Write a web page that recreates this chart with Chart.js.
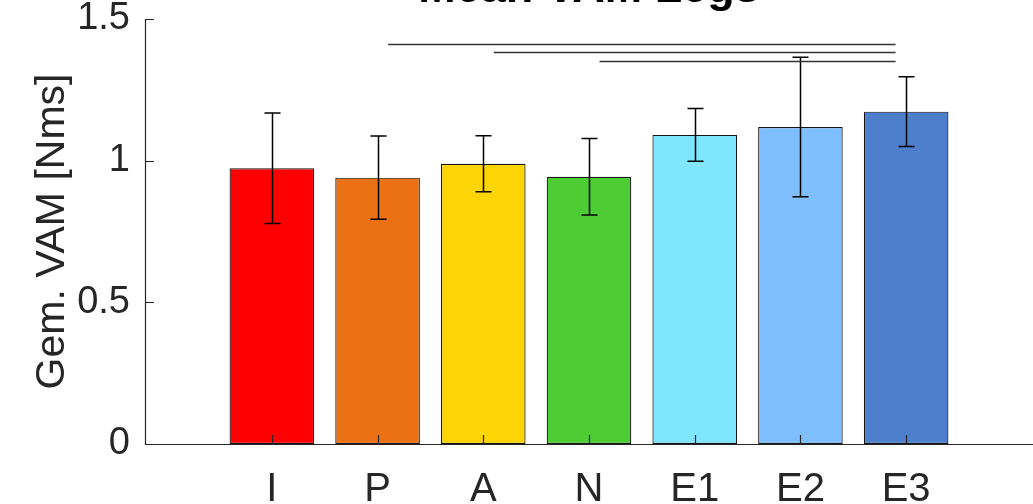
<!DOCTYPE html>
<html>
<head>
<meta charset="utf-8">
<script src="https://cdn.jsdelivr.net/npm/chart.js@4.4.1/dist/chart.umd.min.js"></script>
<style>
  html, body { margin: 0; padding: 0; background: #fff; overflow: hidden; width: 1033px; height: 504px; }
  #wrap { position: absolute; left: 0; top: -40px; width: 1033px; height: 600px; }
</style>
</head>
<body>
<div id="wrap"><canvas id="c"></canvas></div>
<script>
// ---- data ----
const categories = ['I', 'P', 'A', 'N', 'E1', 'E2', 'E3'];
const means = [0.973, 0.940, 0.989, 0.943, 1.091, 1.119, 1.173];
const errors = [0.195, 0.147, 0.099, 0.135, 0.093, 0.246, 0.123];
const barColors = ['#FF0000', '#EC7014', '#FDD504', '#4DCC33', '#80E6FF', '#80BFFF', '#4D7FCC'];
const yTickValues = [0, 0.5, 1, 1.5];
const sigFrom = ['P', 'A', 'N'];
const sigTo = ['E3', 'E3', 'E3'];
const sigLevel = [1.413, 1.383, 1.352];
const chartTitle = 'Mean VAM Legs';
const yTitle = 'Gem. VAM [Nms]';

const FONT = '"Liberation Sans", Arial, Helvetica, sans-serif';
const AX = '#262626';
const catPos = categories.map((_, i) => i + 1);

const customDraw = {
  id: 'customDraw',
  afterDatasetsDraw(chart) {
    const ctx = chart.ctx;
    const xs = chart.scales.x, ys = chart.scales.y;
    const ca = chart.chartArea;
    ctx.save();
    // error bars
    ctx.strokeStyle = '#000';
    ctx.lineWidth = 1.5;
    means.forEach((m, i) => {
      const x = Math.round(xs.getPixelForValue(catPos[i])) + 0.5;
      const yt = ys.getPixelForValue(m + errors[i]);
      const yb = ys.getPixelForValue(m - errors[i]);
      ctx.beginPath();
      ctx.moveTo(x, yt); ctx.lineTo(x, yb);
      ctx.moveTo(x - 8, yt); ctx.lineTo(x + 8, yt);
      ctx.moveTo(x - 8, yb); ctx.lineTo(x + 8, yb);
      ctx.stroke();
    });
    // significance lines
    ctx.strokeStyle = '#333';
    ctx.lineWidth = 1.3;
    sigFrom.forEach((f, i) => {
      const a = catPos[categories.indexOf(f)] + 0.1;
      const b = catPos[categories.indexOf(sigTo[i])] - 0.1;
      const y = Math.round(ys.getPixelForValue(sigLevel[i])) + 0.5;
      ctx.beginPath();
      ctx.moveTo(xs.getPixelForValue(a), y);
      ctx.lineTo(xs.getPixelForValue(b), y);
      ctx.stroke();
    });
    // axes lines + inward ticks
    ctx.strokeStyle = AX;
    ctx.lineWidth = 1.2;
    ctx.beginPath();
    ctx.moveTo(ca.left + 0.5, ca.top);
    ctx.lineTo(ca.left + 0.5, ca.bottom + 0.5);
    ctx.lineTo(ca.right, ca.bottom + 0.5);
    yTickValues.forEach(v => {
      const y = Math.round(ys.getPixelForValue(v)) + 0.5;
      ctx.moveTo(ca.left, y); ctx.lineTo(ca.left + 9, y);
    });
    catPos.forEach(p => {
      const x = Math.round(xs.getPixelForValue(p)) + 0.5;
      ctx.moveTo(x, ca.bottom); ctx.lineTo(x, ca.bottom - 9);
    });
    ctx.stroke();
    // title (clipped at top of page)
    ctx.fillStyle = '#000';
    ctx.font = 'bold 45px ' + FONT;
    ctx.textAlign = 'center';
    ctx.textBaseline = 'alphabetic';
    ctx.fillText(chartTitle, (ca.left + ca.right) / 2, 42);
    ctx.restore();
  }
};

new Chart(document.getElementById('c'), {
  type: 'bar',
  data: {
    datasets: [{
      data: catPos.map((p, i) => ({ x: p, y: means[i] })),
      backgroundColor: barColors,
      borderColor: '#141414',
      borderWidth: 1.2,
      borderSkipped: false,
      barPercentage: 1.0,
      categoryPercentage: 0.8
    }]
  },
  options: {
    responsive: true,
    maintainAspectRatio: false,
    animation: false,
    devicePixelRatio: 1,
    layout: { padding: { top: 59, right: 0, left: 0, bottom: 0 } },
    plugins: { legend: { display: false }, tooltip: { enabled: false }, title: { display: false } },
    scales: {
      x: {
        type: 'linear',
        offset: false,
        min: -0.2,
        max: 8.2,
        grid: { display: false, drawTicks: false, offset: false },
        border: { display: false },
        afterBuildTicks: s => { s.ticks = catPos.map(v => ({ value: v })); },
        afterFit: s => { s.height = 116; },
        ticks: {
          color: AX,
          padding: 22,
          font: { family: FONT, size: 40 },
          maxRotation: 0,
          autoSkip: false,
          callback: v => categories[catPos.indexOf(v)] ?? ''
        }
      },
      y: {
        min: 0,
        max: 1.5,
        grid: { display: false, drawTicks: false },
        border: { display: false },
        afterBuildTicks: s => { s.ticks = yTickValues.map(v => ({ value: v })); },
        afterFit: s => { s.width = 145; },
        ticks: {
          color: AX,
          padding: 15,
          font: { family: FONT, size: 38 },
          callback: v => String(v)
        },
        title: {
          display: true,
          text: yTitle,
          color: AX,
          font: { family: FONT, size: 41 },
          padding: { top: 28, bottom: 0 }
        }
      }
    }
  },
  plugins: [customDraw]
});
</script>
</body>
</html>
